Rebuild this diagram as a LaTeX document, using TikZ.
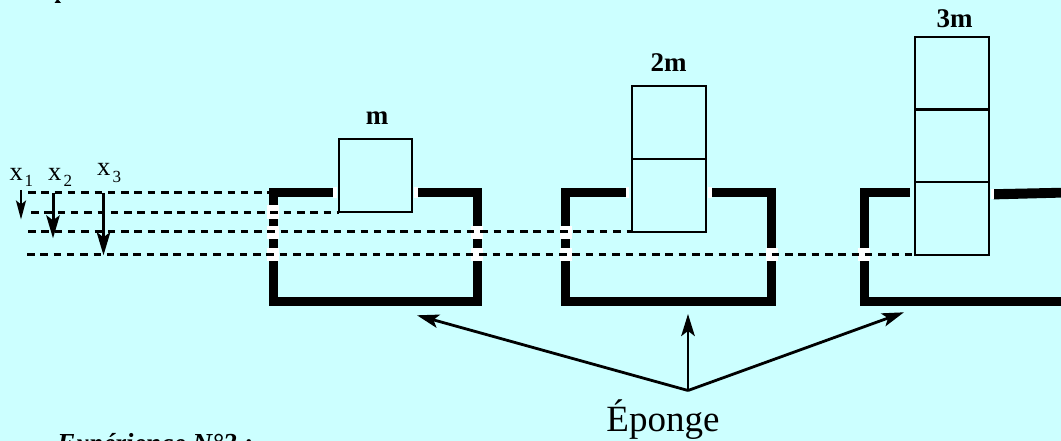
\documentclass[tikz,border=0pt]{standalone}
\usepackage{fontspec}
\setmainfont{Liberation Serif}
\usetikzlibrary{arrows.meta}
\definecolor{bgc}{HTML}{CCFFFF}
\tikzset{
  wall/.style={line width=9.4pt,miter limit=10,line join=miter,line cap=butt},
  level/.style={line width=2.8pt,dash pattern=on 7.5pt off 5.8pt},
  gap/.style={fill=white,draw=none},
  mass/.style={draw,line width=2pt,fill=none,inner sep=0pt,minimum width=73.5pt,minimum height=73pt,outer sep=0pt},
  lab/.style={inner sep=0pt,anchor=base,font=\fontsize{27}{30}\selectfont\bfseries},
  xlab/.style={inner sep=0pt,anchor=base west,font=\fontsize{26.5}{30}\selectfont},
  sub/.style={inner sep=0pt,anchor=base west,font=\fontsize{17}{20}\selectfont},
  smallarrow/.style={line width=2.4pt,-{Stealth[length=19pt,width=10pt,inset=4pt]}},
  bigarrow/.style={line width=3pt,-{Stealth[length=23pt,width=13.5pt,inset=5pt]}},
  spongearrow/.style={line width=2.8pt,-{Stealth[length=22pt,width=13.5pt,inset=5pt]}}
}
\begin{document}
\begin{tikzpicture}[x=1pt,y=-1pt]
\useasboundingbox (0,0) rectangle (1061,441);
\clip (0,0) rectangle (1061,441);
\fill[bgc] (0,0) rectangle (1061,441);
% tanks
\draw[wall] (333,192.5) -- (273.5,192.5) -- (273.5,301.5) -- (477.3,301.5) -- (477.3,192.5) -- (417.5,192.5);
\draw[wall] (626,192.5) -- (565.5,192.5) -- (565.5,301.5) -- (771.5,301.5) -- (771.5,192.5) -- (712,192.5);
\draw[wall] (910,192.5) -- (864.2,192.5) -- (864.2,301.5) -- (1070,301.5);
\fill (993.7,189.2) -- (1061,187.8) -- (1061,197.6) -- (993.7,199.4) -- cycle;
% white gaps in the walls
\foreach \xa/\ya in {267/205.5,267/225.5,267/248,471/225.5,471/248,560/225.5,560/248,765.5/248,858/248}
  \fill[gap] (\xa,\ya) rectangle ++(12,13);
\fill[gap] (333,187.5) rectangle (337,198);
\fill[gap] (413.5,187.5) rectangle (417.5,198);
\fill[gap] (626,187.5) rectangle (629,198);
\fill[gap] (708,187.5) rectangle (712,198);
\fill[gap] (990.5,189) rectangle (993.7,199.5);
% levels
\coordinate (l1a) at (28,192.3);  \coordinate (l1b) at (272,192.3);
\coordinate (l2a) at (31,212.3);  \coordinate (l2b) at (338.5,212.3);
\coordinate (l3a) at (28,231.3);  \coordinate (l3b) at (632,231.3);
\coordinate (l4a) at (27,254.3);  \coordinate (l4b) at (915,254.3);
\draw[level] (l1a) -- (l1b);
\draw[level] (l2a) -- (l2b);
\draw[level] (l3a) -- (l3b);
\draw[level] (l4a) -- (l4b);
% masses
\node[mass,anchor=north west] (m1) at (338.7,139) {};
\node[mass,anchor=north west] (m2a) at (632.3,86) {};
\node[mass,anchor=north west] (m2b) at (632.3,159) {};
\node[mass,anchor=north west] (m3a) at (915,37) {};
\node[mass,anchor=north west] (m3b) at (915,109.3) {};
\node[mass,anchor=north west] (m3c) at (915,182) {};
\node[lab] (lm) at (377,125) {m};
\node[lab] (lm2) at (668.5,72) {2m};
\node[lab] (lm3) at (954.5,28) {3m};
% depth labels
\node[xlab] (x1) at (9.3,181) {x};
\node[sub] (s1) at (24.5,186.8) {1};
\node[xlab] (x2) at (48,181) {x};
\node[sub] (s2) at (63.5,186.8) {2};
\node[xlab] (x3) at (97,176) {x};
\node[sub] (s3) at (112.5,182.3) {3};
% depth arrows
\coordinate (a1s) at (21,190);    \coordinate (a1e) at (21,219.5);
\coordinate (a2s) at (53,192.7);  \coordinate (a2e) at (53,238.3);
\coordinate (a3s) at (103.5,193); \coordinate (a3e) at (103.5,255.3);
\draw[smallarrow] (a1s) -- (a1e);
\draw[bigarrow] (a2s) -- (a2e);
\draw[bigarrow] (a3s) -- (a3e);
% sponge
\node[inner sep=0pt,anchor=base,font=\fontsize{37}{40}\selectfont] (ep) at (663,431) {Éponge};
\coordinate (hub) at (688,390.5);
\coordinate (t1) at (417,315.3);
\coordinate (t2) at (688,314);
\coordinate (t3) at (904,312.3);
\draw[spongearrow] (hub) -- (t1);
\draw[spongearrow] (hub) -- (t2);
\draw[spongearrow] (hub) -- (t3);
% cropped caption
\node[inner sep=0pt,anchor=base west,font=\fontsize{27.5}{30}\selectfont\bfseries\itshape] (cap) at (57,452.5) {Expérience N°2 :};
% foot of a letter cut off by the top edge
\fill (54.5,3) -- (61,3) -- (58.5,0) -- (56.8,0) -- cycle;
\end{tikzpicture}
\end{document}
